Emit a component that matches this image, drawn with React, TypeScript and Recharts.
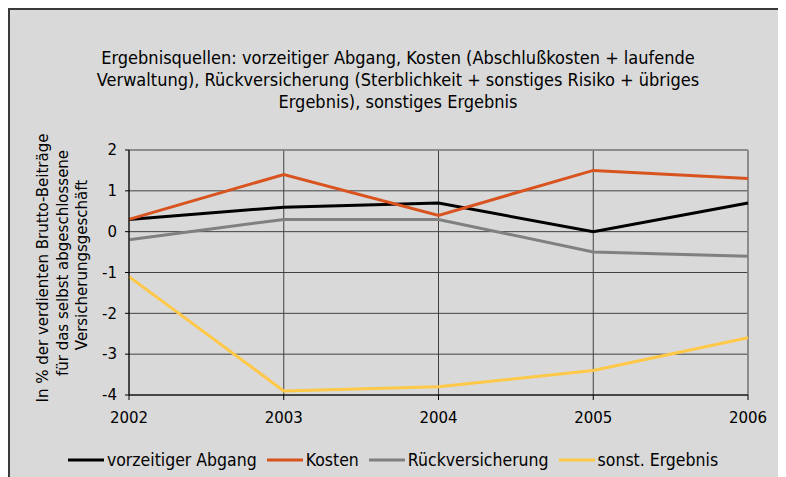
import React from "react";
import {
  LineChart,
  Line,
  XAxis,
  YAxis,
  CartesianGrid,
  Legend,
  ReferenceLine,
} from "recharts";

const years = ["2002", "2003", "2004", "2005", "2006"];
const vorzeitigerAbgang = [0.3, 0.6, 0.7, 0.0, 0.7];
const kosten = [0.3, 1.4, 0.4, 1.5, 1.3];
const rueckversicherung = [-0.2, 0.3, 0.3, -0.5, -0.6];
const sonstErgebnis = [-1.1, -3.9, -3.8, -3.4, -2.6];
const yTicks = [-4, -3, -2, -1, 0, 1, 2];

const titleLines = [
  "Ergebnisquellen: vorzeitiger Abgang, Kosten (Abschlußkosten + laufende",
  "Verwaltung), Rückversicherung (Sterblichkeit + sonstiges Risiko + übriges",
  "Ergebnis), sonstiges Ergebnis",
];
const yLabelLines = [
  "In % der verdienten Brutto-Beiträge",
  "für das selbst abgeschlossene",
  "Versicherungsgeschäft",
];

const series = [
  { key: "va", name: "vorzeitiger Abgang", color: "#000000" },
  { key: "ko", name: "Kosten", color: "#D9531E" },
  { key: "rv", name: "Rückversicherung", color: "#808080" },
  { key: "se", name: "sonst. Ergebnis", color: "#FFC846" },
];

const data = years.map((y, i) => ({
  year: y,
  va: vorzeitigerAbgang[i],
  ko: kosten[i],
  rv: rueckversicherung[i],
  se: sonstErgebnis[i],
}));

const W = 776;
const H = 467;

const condensed = "'DejaVu Sans Condensed', 'DejaVu Sans', sans-serif";
const regular = "'DejaVu Sans', Verdana, sans-serif";

const YLabel = () => {
  const cys = [258, 253, 255];
  const xs = [33, 53, 72];
  return (
    <g>
      {yLabelLines.map((t, i) => (
        <text
          key={i}
          x={xs[i]}
          y={cys[i]}
          transform={`rotate(-90, ${xs[i]}, ${cys[i]})`}
          textAnchor="middle"
          dominantBaseline="central"
          fontFamily={regular}
          fontSize={15}
          fill="#000"
        >
          {t}
        </text>
      ))}
    </g>
  );
};

const LegendContent = () => (
  <div
    style={{
      display: "flex",
      justifyContent: "center",
      alignItems: "center",
      height: 30,
      width: W,
      fontFamily: condensed,
      fontSize: 17.5,
      color: "#000",
    }}
  >
    {series.map((s) => (
      <div key={s.key} style={{ display: "flex", alignItems: "center", marginRight: 10 }}>
        <svg width={36} height={6} style={{ marginRight: 3 }}>
          <line x1={0} y1={3} x2={36} y2={3} stroke={s.color} strokeWidth={3} />
        </svg>
        <span>{s.name}</span>
      </div>
    ))}
  </div>
);

export default function App() {
  return (
    <div
      style={{
        position: "relative",
        width: 800,
        height: 490,
        boxSizing: "border-box",
        background: "#d9d9d9",
        borderLeft: "2px solid #3a3a3a",
        borderTop: "2px solid #3a3a3a",
      }}
    >
      <style>{"html,body{overflow:hidden}"}</style>
      <div
        style={{
          position: "absolute",
          left: 0,
          top: 37,
          width: W,
          textAlign: "center",
          fontFamily: condensed,
          fontSize: 18,
          lineHeight: "22px",
          color: "#000",
        }}
      >
        {titleLines.map((l, i) => (
          <div key={i}>{l}</div>
        ))}
      </div>
      <LineChart
        width={W}
        height={H}
        data={data}
        margin={{ top: 140, right: 38, left: 59, bottom: 2 }}
      >
        <CartesianGrid stroke="#404040" strokeWidth={1} />
        <XAxis
          dataKey="year"
          height={50}
          tickSize={5}
          tickMargin={12}
          axisLine={{ stroke: "#000" }}
          tickLine={{ stroke: "#000" }}
          tick={{ fill: "#000", fontFamily: regular, fontSize: 15 }}
        />
        <YAxis
          width={60}
          domain={[-4, 2]}
          ticks={yTicks}
          type="number"
          tickSize={4}
          tickMargin={8}
          axisLine={{ stroke: "#000" }}
          tickLine={{ stroke: "#000" }}
          tick={{ fill: "#000", fontFamily: regular, fontSize: 15 }}
          label={<YLabel />}
        />
        <ReferenceLine y={2} stroke="#8c8c8c" strokeWidth={1.5} />
        <ReferenceLine x="2006" stroke="#8c8c8c" strokeWidth={1.5} />
        {series.map((s) => (
          <Line
            key={s.key}
            type="linear"
            dataKey={s.key}
            name={s.name}
            stroke={s.color}
            strokeWidth={3}
            dot={false}
            activeDot={false}
            isAnimationActive={false}
          />
        ))}
        <Legend
          verticalAlign="bottom"
          content={<LegendContent />}
          wrapperStyle={{ left: 0, width: W }}
        />
      </LineChart>
    </div>
  );
}
